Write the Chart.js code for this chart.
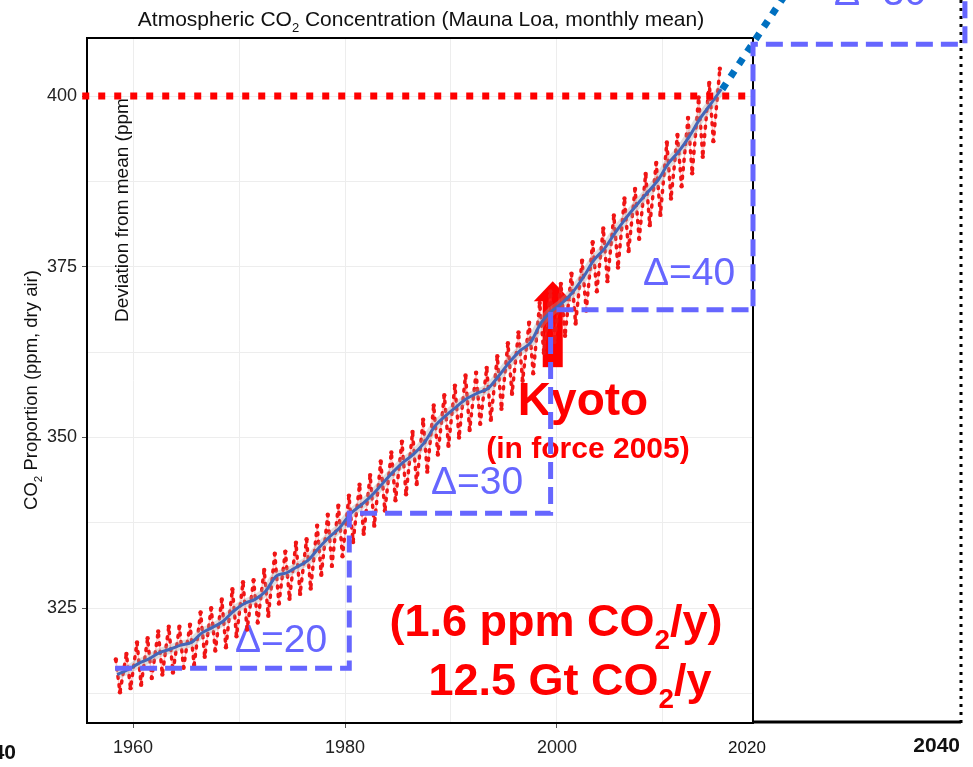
<!DOCTYPE html>
<html>
<head>
<meta charset="utf-8">
<script src="https://cdn.jsdelivr.net/npm/chart.js@4"></script>
<style>
  html, body { margin: 0; padding: 0; background: #fff; }
  #wrap { width: 973px; height: 767px; }
</style>
</head>
<body>
<div id="wrap"><canvas id="co2Chart" width="973" height="767"></canvas></div>
<script>
// Mauna Loa monthly CO2: May peak and autumn trough per year
const peakYears = [1958,1959,1960,1961,1962,1963,1964,1965,1966,1967,1968,1969,1970,1971,1972,1973,1974,1975,1976,1977,1978,1979,1980,1981,1982,1983,1984,1985,1986,1987,1988,1989,1990,1991,1992,1993,1994,1995,1996,1997,1998,1999,2000,2001,2002,2003,2004,2005,2006,2007,2008,2009,2010,2011,2012,2013,2014,2015];
const peakValues = [317.5,318.3,320.0,320.6,321.6,322.3,322.3,322.6,324.4,325.0,326.3,327.8,328.8,329.1,330.6,333.0,333.3,334.6,335.1,337.1,338.7,340.0,341.5,343.1,344.5,346.5,347.8,349.4,350.8,352.6,354.7,356.2,357.6,359.1,359.5,360.2,361.9,363.8,365.4,366.8,369.7,371.4,372.5,374.0,375.9,378.6,380.6,382.5,385.0,386.4,388.6,390.2,393.2,394.3,396.8,399.8,401.9,404.0];
const troughYears = [1958,1959,1960,1961,1962,1963,1964,1965,1966,1967,1968,1969,1970,1971,1972,1973,1974,1975,1976,1977,1978,1979,1980,1981,1982,1983,1984,1985,1986,1987,1988,1989,1990,1991,1992,1993,1994,1995,1996,1997,1998,1999,2000,2001,2002,2003,2004,2005,2006,2007,2008,2009,2010,2011,2012,2013,2014];
const troughValues = [312.7,313.3,313.8,314.8,315.3,315.6,316.3,316.7,317.9,318.8,319.3,320.9,321.9,322.9,323.9,325.7,326.4,327.1,327.9,329.9,331.2,332.6,334.7,335.9,337.1,339.3,340.8,341.7,343.2,345.0,347.5,348.8,350.0,351.1,352.0,352.6,354.2,356.4,358.3,359.4,362.4,364.0,364.9,366.7,368.6,371.4,372.9,374.9,377.3,379.1,381.1,382.6,385.0,386.8,388.7,391.1,393.4];

// smoothed trend (annual mean, plotted mid-year)
const trendYears = peakYears;
const trendValues = [315.3,316.0,316.9,317.6,318.5,319.0,319.6,320.0,321.4,322.2,323.1,324.6,325.7,326.3,327.5,329.7,330.2,331.1,332.0,333.8,335.4,336.8,338.8,340.1,341.5,343.2,344.9,346.4,347.6,349.3,351.7,353.2,354.5,355.7,356.5,357.2,359.0,361.0,362.7,363.9,366.8,368.5,369.7,371.3,373.5,376.0,377.7,380.0,382.1,384.0,385.8,387.6,390.1,391.9,394.1,396.7,398.8,401.0];

// overlay: projection, 400 ppm mark, step of increments
const projYears = [2015.6, 2022.0];
const projValues = [401.0, 415.9];
const markYears = [1955.2, 2018.5];
const markValues = [400, 400];
const stepYears = [1958.3, 1980.4, 1980.4, 1999.4, 1999.4, 2018.5, 2018.5, 2038.5, 2038.5];
const stepValues = [316.2, 316.2, 338.9, 338.9, 368.7, 368.7, 407.6, 407.6, 420];

const xTickLabels = [1960, 1980, 2000];
const yTickLabels = [325, 350, 375, 400];

const seasonal = [];
peakYears.forEach(function (y, i) {
  seasonal.push({ x: y + 0.37, y: peakValues[i] });
  if (i < troughValues.length) seasonal.push({ x: troughYears[i] + 0.76, y: troughValues[i] });
});
const trend = trendYears.map(function (y, i) { return { x: y + 0.5, y: trendValues[i] }; });

// text with subscripts: parts = [[text, isSub], ...]
function richText(ctx, parts, x, y, size, weight, align) {
  const fam = '"Liberation Sans", Arial, sans-serif';
  let w = 0;
  parts.forEach(function (p) {
    ctx.font = weight + ' ' + (p[1] ? size * 0.62 : size) + 'px ' + fam;
    w += ctx.measureText(p[0]).width;
  });
  let cx = align === 'center' ? x - w / 2 : (align === 'right' ? x - w : x);
  ctx.textAlign = 'left';
  ctx.textBaseline = 'alphabetic';
  parts.forEach(function (p) {
    ctx.font = weight + ' ' + (p[1] ? size * 0.62 : size) + 'px ' + fam;
    ctx.fillText(p[0], cx, p[1] ? y + size * 0.28 : y);
    cx += ctx.measureText(p[0]).width;
  });
}

// polyline through the chart scales (may run past the plot area)
function scaledLine(chart, xs, vs, color, width, dash) {
  const ctx = chart.ctx, sx = chart.scales.x, sy = chart.scales.y;
  ctx.save();
  ctx.strokeStyle = color;
  ctx.lineWidth = width;
  ctx.setLineDash(dash);
  ctx.beginPath();
  xs.forEach(function (x, i) {
    const px = sx.getPixelForValue(x), py = sy.getPixelForValue(vs[i]);
    if (i === 0) ctx.moveTo(px, py); else ctx.lineTo(px, py);
  });
  ctx.stroke();
  ctx.restore();
}

const overlay = {
  id: 'overlay',
  beforeDatasetsDraw(chart) {
    const ctx = chart.ctx;
    const a = chart.chartArea;
    ctx.save();
    // plot frame
    ctx.strokeStyle = '#000';
    ctx.lineWidth = 2;
    ctx.strokeRect(a.left, a.top, a.right - a.left, a.bottom - a.top);
    // box to the right
    ctx.lineWidth = 3;
    ctx.beginPath();
    ctx.moveTo(a.right, a.bottom - 1);
    ctx.lineTo(961, a.bottom - 1);
    ctx.stroke();
    ctx.setLineDash([3, 5]);
    ctx.beginPath();
    ctx.moveTo(961, 0);
    ctx.lineTo(961, a.bottom);
    ctx.stroke();
    ctx.setLineDash([]);

    // arrow
    const xs = chart.scales.x, ys = chart.scales.y;
    const ax = xs.getPixelForValue(1999.6);
    const tip = ys.getPixelForValue(372.9);
    const base = ys.getPixelForValue(370.1);
    const foot = ys.getPixelForValue(360.3);
    ctx.fillStyle = '#ff0000';
    ctx.fillRect(ax - 10, base, 20, foot - base);
    ctx.beginPath();
    ctx.moveTo(ax, tip);
    ctx.lineTo(ax + 19, base + 1);
    ctx.lineTo(ax - 19, base + 1);
    ctx.closePath();
    ctx.fill();

    // red notes
    richText(ctx, [['Kyoto', 0]], 583, 415, 46, 'bold', 'center');
    richText(ctx, [['(in force 2005)', 0]], 588, 458, 30, 'bold', 'center');
    richText(ctx, [['(1.6 ppm CO', 0], ['2', 1], ['/y)', 0]], 556, 636, 45, 'bold', 'center');
    richText(ctx, [['12.5 Gt CO', 0], ['2', 1], ['/y', 0]], 570, 695, 45, 'bold', 'center');

    // increments
    ctx.fillStyle = '#6666ff';
    richText(ctx, [['\u0394=20', 0]], 281, 652, 39, 'normal', 'center');
    richText(ctx, [['\u0394=30', 0]], 477, 494, 39, 'normal', 'center');
    richText(ctx, [['\u0394=40', 0]], 689, 285, 39, 'normal', 'center');
    richText(ctx, [['\u0394=30', 0]], 880, 5, 39, 'normal', 'center');

    // title and axis labels
    ctx.fillStyle = '#111';
    richText(ctx, [['Atmospheric CO', 0], ['2', 1], [' Concentration (Mauna Loa, monthly mean)', 0]], 421, 26, 21, 'normal', 'center');
    ctx.save();
    ctx.translate(37, 390);
    ctx.rotate(-Math.PI / 2);
    richText(ctx, [['CO', 0], ['2', 1], [' Proportion (ppm, dry air)', 0]], 0, 0, 18.5, 'normal', 'center');
    ctx.restore();
    ctx.save();
    ctx.beginPath();
    ctx.rect(100, 99, 40, 240);
    ctx.clip();
    ctx.translate(128, 322);
    ctx.rotate(-Math.PI / 2);
    richText(ctx, [['Deviation from mean (ppm)', 0]], 0, 0, 19, 'normal', 'left');
    ctx.restore();

    richText(ctx, [['2020', 0]], 747, 753, 17, 'normal', 'center');
    richText(ctx, [['2040', 0]], 960, 752, 21, 'bold', 'right');
    richText(ctx, [['2040', 0]], 16, 759, 21, 'bold', 'right');
    ctx.restore();
  },
  afterDatasetsDraw(chart) {
    scaledLine(chart, markYears, markValues, '#ff0000', 7, [7, 9]);
    scaledLine(chart, projYears, projValues, '#0070c0', 7, [7, 8]);
    scaledLine(chart, stepYears, stepValues, '#6666ff', 5, [17, 8]);
  }
};

new Chart(document.getElementById('co2Chart').getContext('2d'), {
  type: 'line',
  data: {
    datasets: [
      {
        data: trend, borderColor: '#4466b8', borderWidth: 3, pointRadius: 0,
        cubicInterpolationMode: 'monotone', order: 0
      },
      {
        data: trend, borderColor: 'rgba(160,160,160,0.35)', borderWidth: 9, pointRadius: 0,
        cubicInterpolationMode: 'monotone', order: 1
      },
      {
        data: seasonal, borderColor: '#f01515', borderWidth: 3.5, borderDash: [2, 6.5],
        borderJoinStyle: 'round', borderCapStyle: 'round',
        pointRadius: 2.2, pointBackgroundColor: '#f01515', pointBorderWidth: 0, order: 2
      },
      {
        data: seasonal, borderColor: 'rgba(255,90,90,0.35)', borderWidth: 1.5, pointRadius: 0,
        borderJoinStyle: 'round', order: 3
      }
    ]
  },
  options: {
    responsive: false,
    animation: false,
    layout: { padding: { left: 0, right: 220, top: 38, bottom: 0 } },
    plugins: { legend: { display: false }, tooltip: { enabled: false } },
    scales: {
      x: {
        type: 'linear', min: 1955.65, max: 2018.5,
        afterFit: function (s) { s.height = 44; },
        border: { display: false },
        grid: {
          color: '#ededed', tickLength: 5,
          tickColor: function (c) { return xTickLabels.indexOf(c.tick && c.tick.value) >= 0 ? '#555' : 'rgba(0,0,0,0)'; }
        },
        ticks: {
          stepSize: 10, includeBounds: false, maxRotation: 0, autoSkip: false, padding: 9,
          color: '#222', font: { family: '"Liberation Sans", Arial, sans-serif', size: 18 },
          callback: function (v) { return xTickLabels.indexOf(v) >= 0 ? String(v) : ''; }
        }
      },
      y: {
        type: 'linear', min: 308.2, max: 408.5,
        afterFit: function (s) { s.width = 87; },
        border: { display: false },
        grid: {
          color: '#ededed', tickLength: 5,
          tickColor: function (c) { return yTickLabels.indexOf(c.tick && c.tick.value) >= 0 ? '#555' : 'rgba(0,0,0,0)'; }
        },
        ticks: {
          stepSize: 12.5, includeBounds: false, padding: 5,
          color: '#222', font: { family: '"Liberation Sans", Arial, sans-serif', size: 18 },
          callback: function (v) { return yTickLabels.indexOf(v) >= 0 ? String(v) : ''; }
        }
      }
    }
  },
  plugins: [overlay]
});
</script>
</body>
</html>
